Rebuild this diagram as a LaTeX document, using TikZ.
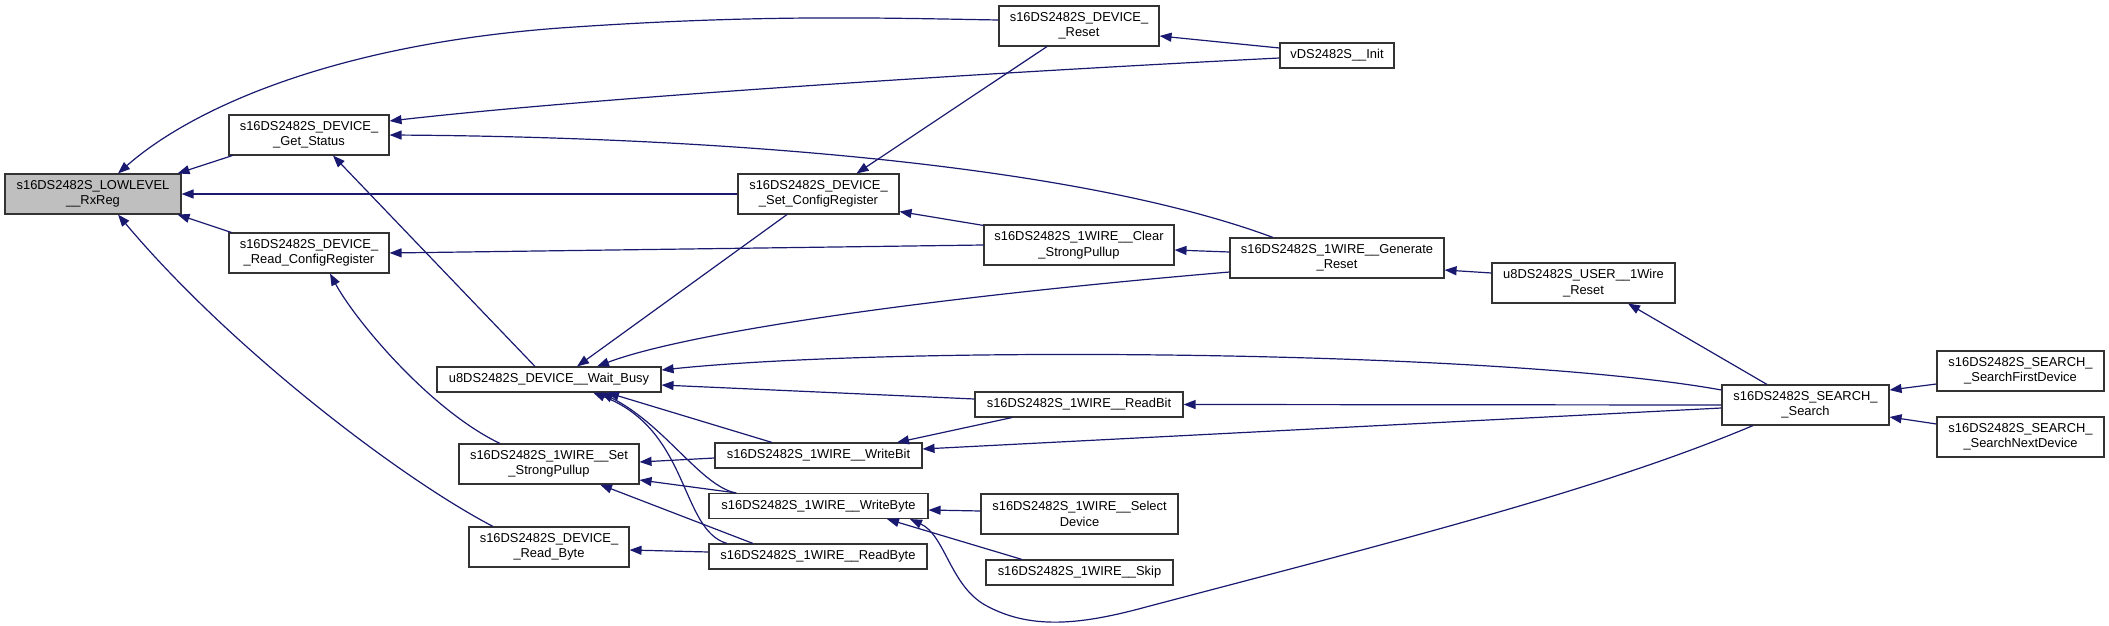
\documentclass[tikz,border=0pt]{standalone}
\usepackage{fontspec}
\setmainfont{Liberation Sans}
\usepackage{tikz}
\usepackage{xcolor}
\usetikzlibrary{arrows.meta}
\definecolor{edgeblue}{RGB}{25,25,112}
\definecolor{focusgray}{RGB}{191,191,191}

\begin{document}
\begin{tikzpicture}[x=1pt, y=-1pt,
    fn/.style={draw=black!80, line width=1.1pt, fill=white, align=center, inner sep=0pt,
      font=\fontsize{12.9}{15.5}\selectfont},
    call/.style={draw=edgeblue, line width=1.2pt, {Triangle[length=12pt, width=9pt]}-}]
  \useasboundingbox (0,0) rectangle (2109,626);

  % --- FUNCTIONS ---
  % Rank 0
  \node[fn, fill=focusgray, minimum width=176, minimum height=40] (rxreg) at (93,194) {s16DS2482S\_LOWLEVEL\\\_\_RxReg};

  % Rank 1
  \node[fn, minimum width=160, minimum height=40] (getstatus) at (309,135) {s16DS2482S\_DEVICE\_\\\_Get\_Status};
  \node[fn, minimum width=160, minimum height=40] (readcfg) at (309,253) {s16DS2482S\_DEVICE\_\\\_Read\_ConfigRegister};

  % Rank 2
  \node[fn, minimum width=224, minimum height=25] (waitbusy) at (549,379.5) {u8DS2482S\_DEVICE\_\_Wait\_Busy};
  \node[fn, minimum width=180, minimum height=40] (setpu) at (549,464) {s16DS2482S\_1WIRE\_\_Set\\\_StrongPullup};
  \node[fn, minimum width=160, minimum height=40] (rdbyte) at (549,547) {s16DS2482S\_DEVICE\_\\\_Read\_Byte};

  % Rank 3
  \node[fn, minimum width=161, minimum height=40] (setcfg) at (818.5,194) {s16DS2482S\_DEVICE\_\\\_Set\_ConfigRegister};
  \node[fn, minimum width=207, minimum height=25] (writebit) at (818.5,455.5) {s16DS2482S\_1WIRE\_\_WriteBit};
  \node[fn, minimum width=219, minimum height=25] (writebyte) at (818.5,506) {s16DS2482S\_1WIRE\_\_WriteByte};
  \node[fn, minimum width=218, minimum height=25] (readbyte) at (818,556.5) {s16DS2482S\_1WIRE\_\_ReadByte};

  % Rank 4
  \node[fn, minimum width=160, minimum height=40] (devreset) at (1079,26) {s16DS2482S\_DEVICE\_\\\_Reset};
  \node[fn, minimum width=190, minimum height=40] (clearpu) at (1079,245) {s16DS2482S\_1WIRE\_\_Clear\\\_StrongPullup};
  \node[fn, minimum width=208, minimum height=25] (readbit) at (1079,404.5) {s16DS2482S\_1WIRE\_\_ReadBit};
  \node[fn, minimum width=197, minimum height=40] (select) at (1079.5,514) {s16DS2482S\_1WIRE\_\_Select\\Device};
  \node[fn, minimum width=187, minimum height=25] (skip) at (1079.5,572.5) {s16DS2482S\_1WIRE\_\_Skip};

  % Rank 5
  \node[fn, minimum width=114, minimum height=25] (init) at (1337,55.5) {vDS2482S\_\_Init};
  \node[fn, minimum width=214, minimum height=40] (genreset) at (1337,258) {s16DS2482S\_1WIRE\_\_Generate\\\_Reset};

  % Rank 6 to 8
  \node[fn, minimum width=183, minimum height=40] (userreset) at (1583.5,283) {u8DS2482S\_USER\_\_1Wire\\\_Reset};
  \node[fn, minimum width=167, minimum height=40] (search) at (1805.5,405) {s16DS2482S\_SEARCH\_\\\_Search};
  \node[fn, minimum width=167, minimum height=40] (first) at (2020.5,371) {s16DS2482S\_SEARCH\_\\\_SearchFirstDevice};
  \node[fn, minimum width=167, minimum height=40] (next) at (2020.5,437) {s16DS2482S\_SEARCH\_\\\_SearchNextDevice};

  % --- CALLS INTO RxReg ---
  \draw[call] ([xshift=25pt]rxreg.north) .. controls (190,110) and (330,45) .. (560,28)
    .. controls (760,14) and (880,18) .. ([yshift=6pt]devreset.west);
  \draw[call] ([xshift=-4pt]rxreg.north east) -- ([xshift=4pt]getstatus.south west);
  \draw[call] (rxreg.east) -- (setcfg.west);
  \draw[call] ([xshift=-4pt]rxreg.south east) -- ([xshift=3pt]readcfg.north west);
  \draw[call] ([xshift=25pt]rxreg.south) .. controls (230,348) and (400,478) .. ([xshift=-56pt]rdbyte.north);

  % --- RANK 1 ---
  \draw[call] ([yshift=14pt]getstatus.east) .. controls (600,97) and (1000,72) .. ([yshift=-2.5pt]init.west);
  \draw[call] (getstatus.east) .. controls (700,137) and (1070,162) .. ([xshift=-64pt]genreset.north);
  \draw[call] ([xshift=24pt]getstatus.south) -- ([xshift=-14pt]waitbusy.north);
  \draw[call] (readcfg.east) -- (clearpu.west);
  \draw[call] ([xshift=21pt]readcfg.south) .. controls (355,320) and (430,410) .. ([xshift=-49pt]setpu.north);

  % --- RANK 2 ---
  \draw[call] ([xshift=28pt]waitbusy.north) -- ([xshift=-31.5pt]setcfg.south);
  \draw[call] ([xshift=48pt]waitbusy.north) .. controls (680,335) and (900,300) .. ([yshift=-14pt]genreset.west);
  \draw[call] ([yshift=9.5pt]waitbusy.east) .. controls (900,345) and (1500,350) .. ([yshift=15pt]search.west);
  \draw[call] ([yshift=-5.5pt]waitbusy.east) -- ([yshift=5.5pt]readbit.west);
  \draw[call] ([xshift=58pt]waitbusy.south) -- ([xshift=-46.5pt]writebit.north);
  \draw[call] ([xshift=52pt]waitbusy.south) .. controls (665,425) and (700,485) .. ([xshift=-83pt]writebyte.north);
  \draw[call] ([xshift=44pt]waitbusy.south) .. controls (690,430) and (680,530) .. ([xshift=-91pt]readbyte.north);
  \draw[call] ([yshift=2pt]setpu.east) -- ([yshift=-2.5pt]writebit.west);
  \draw[call] ([yshift=-16pt]setpu.east) -- ([xshift=28pt]writebyte.north west);
  \draw[call] ([xshift=51pt]setpu.south) -- ([xshift=-65pt]readbyte.north);
  \draw[call] ([yshift=-3pt]rdbyte.east) -- ([yshift=4.5pt]readbyte.west);

  % --- RANK 3 ---
  \draw[call] ([xshift=38pt]setcfg.north) -- ([xshift=-32pt]devreset.south);
  \draw[call] ([yshift=3pt]setcfg.south east) -- ([yshift=-1pt]clearpu.north west);
  \draw[call] ([xshift=78.5pt]writebit.north) -- ([xshift=-67pt]readbit.south);
  \draw[call] ([yshift=6.5pt]writebit.east) -- ([yshift=-3pt]search.west);
  \draw[call] ([yshift=-4pt]writebyte.east) -- ([yshift=3pt]select.west);
  \draw[call] ([xshift=68.5pt]writebyte.south) -- ([xshift=-57.5pt]skip.north);
  \draw[call] ([xshift=91.5pt]writebyte.south) .. controls (945,535) and (950,585) .. (985,605)
    .. controls (1030,630) and (1080,625) .. (1146,607)
    .. controls (1400,540) and (1600,490) .. ([xshift=-52.5pt]search.south);

  % --- RANK 4 AND UP ---
  \draw[call] ([yshift=-10pt]devreset.east) -- ([yshift=7.5pt]init.west);
  \draw[call] ([yshift=-5pt]clearpu.east) -- ([yshift=6pt]genreset.west);
  \draw[call] (readbit.east) -- (search.west);
  \draw[call] ([yshift=-12pt]genreset.east) -- ([yshift=10pt]userreset.west);
  \draw[call] ([xshift=44.5pt]userreset.south) -- ([xshift=-38.5pt]search.north);
  \draw[call] ([yshift=15pt]search.east) -- ([yshift=-13pt]first.west);
  \draw[call] ([yshift=-12pt]search.east) -- ([yshift=13pt]next.west);
\end{tikzpicture}
\end{document}
